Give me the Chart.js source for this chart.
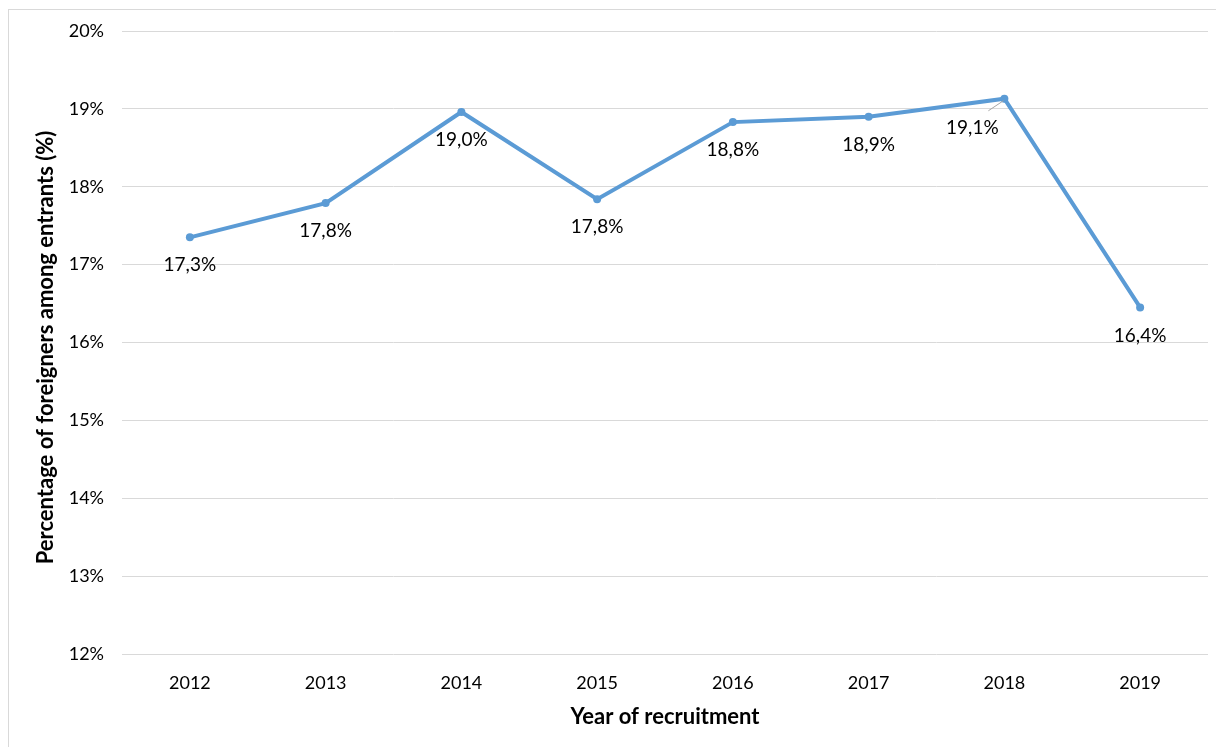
<!DOCTYPE html>
<html>
<head>
<meta charset="utf-8">
<script src="https://cdn.jsdelivr.net/npm/chart.js@4"></script>
<style>
  html, body { margin: 0; padding: 0; background: #fff; }
  #wrap { position: relative; width: 1216px; height: 747px; overflow: hidden; }
  #frame { position: absolute; left: 8px; top: 9px; width: 1220px; height: 760px; border: 1px solid #d9d9d9; box-sizing: border-box; }
  canvas { position: absolute; left: 0; top: 0; }
</style>
</head>
<body>
<div id="wrap">
  <div id="frame"></div>
  <canvas id="lineChart" width="1216" height="747"></canvas>
</div>
<script>
// 데이터
const years = ['2012', '2013', '2014', '2015', '2016', '2017', '2018', '2019'];
const shareForeigners = [17.35, 17.79, 18.96, 17.84, 18.83, 18.90, 19.13, 16.45];
const valueLabels = ['17,3%', '17,8%', '19,0%', '17,8%', '18,8%', '18,9%', '19,1%', '16,4%'];
const yTicks = [12, 13, 14, 15, 16, 17, 18, 19, 20];
const yTitle = 'Percentage of foreigners among entrants (%)';

const FONT = 'Lato, "Open Sans", sans-serif';

// 값 라벨 (점 아래) + 세로축 제목
const pointLabels = {
    id: 'pointLabels',
    afterDatasetsDraw(chart) {
        const ctx = chart.ctx;
        const meta = chart.getDatasetMeta(0);
        ctx.save();
        ctx.font = '19px ' + FONT;
        ctx.fillStyle = '#000';
        ctx.textAlign = 'center';
        ctx.textBaseline = 'middle';
        meta.data.forEach((pt, i) => {
            let dx = 0, dy = 28;
            if (i === 6) {
                dx = -32; dy = 29;
                ctx.strokeStyle = '#a6a6a6';
                ctx.lineWidth = 1;
                ctx.beginPath();
                ctx.moveTo(pt.x - 1, pt.y + 2);
                ctx.lineTo(pt.x - 16, pt.y + 12);
                ctx.stroke();
            }
            ctx.fillText(valueLabels[i], pt.x + dx, pt.y + dy);
        });

        // 세로축 제목
        const area = chart.chartArea;
        ctx.font = 'bold 22px ' + FONT;
        ctx.translate(46, (area.top + area.bottom) / 2 + 5);
        ctx.rotate(-Math.PI / 2);
        ctx.fillText(yTitle, 0, 0);
        ctx.restore();
    }
};

new Chart(document.getElementById('lineChart'), {
    type: 'line',
    data: {
        labels: years,
        datasets: [{
            data: shareForeigners,
            borderColor: '#5b9bd5',
            backgroundColor: '#5b9bd5',
            borderWidth: 4,
            pointRadius: 4,
            pointBackgroundColor: '#5b9bd5',
            pointBorderWidth: 0,
            tension: 0
        }]
    },
    options: {
        responsive: false,
        animation: false,
        devicePixelRatio: 1,
        layout: { padding: { left: 9, right: 8, top: 31, bottom: 0 } },
        plugins: {
            legend: { display: false },
            tooltip: { enabled: false }
        },
        scales: {
            x: {
                offset: true,
                grid: { display: false },
                border: { display: false },
                ticks: { color: '#000', font: { family: FONT, size: 18 }, padding: 10 },
                title: {
                    display: true,
                    text: 'Year of recruitment',
                    color: '#000',
                    font: { family: FONT, size: 22, weight: 'bold' },
                    padding: { top: 4, bottom: 17 }
                },
                afterFit(s) { s.height = 93; }
            },
            y: {
                min: 12,
                max: 20,
                afterBuildTicks(s) { s.ticks = yTicks.map(v => ({ value: v })); },
                grid: { color: '#d9d9d9', lineWidth: 1, drawTicks: false },
                border: { display: false },
                ticks: {
                    color: '#000',
                    font: { family: FONT, size: 18 },
                    padding: 18,
                    callback: v => v + '%'
                },
                afterFit(s) { s.width = 113; }
            }
        }
    },
    plugins: [pointLabels]
});
</script>
</body>
</html>
